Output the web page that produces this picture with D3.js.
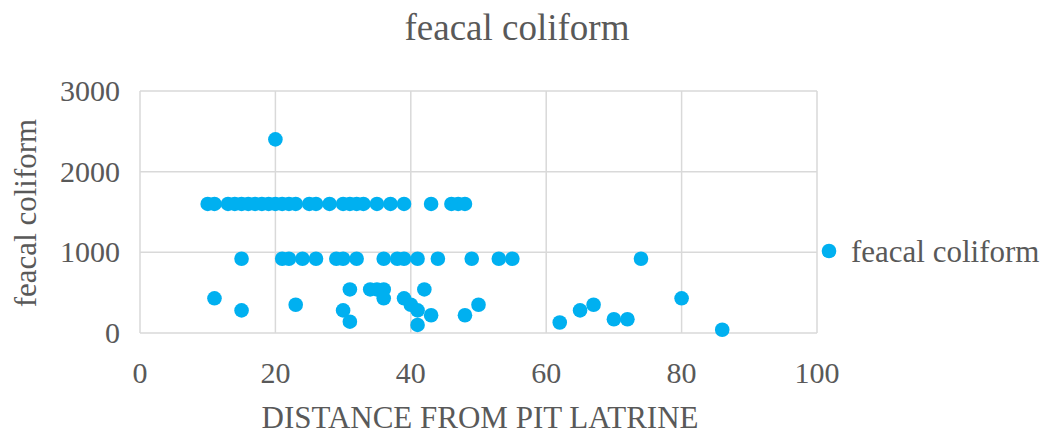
<!DOCTYPE html>
<html lang="en">
<head>
  <meta charset="UTF-8">
  <title>feacal coliform</title>
  <script src="https://d3js.org/d3.v7.min.js"></script>
  <style>
    body { margin: 0; background: #fff; }
    svg text { font-family: "Liberation Serif", "Times New Roman", serif; fill: #595959; }
  </style>
</head>
<body>
  <div id="chart"></div>
  <script>
    // distance from pit latrine (m) and feacal coliform count
    const distance = [
      20,
      10, 11, 13, 14, 15, 16, 17, 18, 19, 20, 21, 22, 23, 25, 26, 28, 30, 31, 32, 33, 35, 37, 39, 43, 46, 47, 48,
      15, 21, 22, 24, 26, 29, 30, 32, 36, 38, 39, 41, 44, 49, 53, 55, 74,
      31, 34, 35, 36, 42,
      11, 36, 39, 80,
      23, 40, 50, 67,
      15, 30, 41, 65,
      43, 48,
      70, 72,
      31, 62, 41, 86
    ];
    const coliform = [
      2400,
      1600, 1600, 1600, 1600, 1600, 1600, 1600, 1600, 1600, 1600, 1600, 1600, 1600, 1600, 1600, 1600, 1600, 1600, 1600, 1600, 1600, 1600, 1600, 1600, 1600, 1600, 1600,
      920, 920, 920, 920, 920, 920, 920, 920, 920, 920, 920, 920, 920, 920, 920, 920, 920,
      540, 540, 540, 540, 540,
      430, 430, 430, 430,
      350, 350, 350, 350,
      280, 280, 280, 280,
      220, 220,
      170, 170,
      140, 130, 100, 40
    ];
    const xTicks = [0, 20, 40, 60, 80, 100];
    const yTicks = [0, 1000, 2000, 3000];
    const seriesName = "feacal coliform";

    const data = distance.map((d, i) => ({ x: d, y: coliform[i] }));

    const width = 1047, height = 438;
    const color = "#00b0f0";

    const svg = d3.select("#chart").append("svg")
      .attr("width", width)
      .attr("height", height);

    const x = d3.scaleLinear().domain([0, 100]).range([140, 817]);
    const y = d3.scaleLinear().domain([0, 3000]).range([333, 91]);

    // gridlines
    svg.append("g").selectAll("line")
      .data(xTicks)
      .join("line")
      .attr("x1", d => x(d)).attr("x2", d => x(d))
      .attr("y1", y(0)).attr("y2", y(3000))
      .attr("stroke", "#d9d9d9").attr("stroke-width", 1.5);
    svg.append("g").selectAll("line")
      .data(yTicks)
      .join("line")
      .attr("x1", x(0)).attr("x2", x(100))
      .attr("y1", d => y(d)).attr("y2", d => y(d))
      .attr("stroke", "#d9d9d9").attr("stroke-width", 1.5);

    // tick labels
    svg.append("g").selectAll("text")
      .data(xTicks)
      .join("text")
      .attr("x", d => x(d))
      .attr("y", 383)
      .attr("text-anchor", "middle")
      .attr("font-size", 30)
      .text(d => d);
    svg.append("g").selectAll("text")
      .data(yTicks)
      .join("text")
      .attr("x", 120)
      .attr("y", d => y(d) + 10)
      .attr("text-anchor", "end")
      .attr("font-size", 30)
      .text(d => d);

    // points
    svg.append("g").selectAll("circle")
      .data(data)
      .join("circle")
      .attr("cx", d => x(d.x))
      .attr("cy", d => y(d.y))
      .attr("r", 7.3)
      .attr("fill", color);

    // titles
    svg.append("text")
      .attr("x", 517).attr("y", 40)
      .attr("text-anchor", "middle")
      .attr("font-size", 37)
      .text(seriesName);

    svg.append("text")
      .attr("x", 480).attr("y", 428)
      .attr("text-anchor", "middle")
      .attr("font-size", 31)
      .text("DISTANCE FROM PIT LATRINE");

    svg.append("text")
      .attr("transform", "translate(36,213) rotate(-90)")
      .attr("text-anchor", "middle")
      .attr("font-size", 31)
      .text(seriesName);

    // legend
    svg.append("circle")
      .attr("cx", 829).attr("cy", 251)
      .attr("r", 7.3)
      .attr("fill", color);
    svg.append("text")
      .attr("x", 851).attr("y", 262)
      .attr("font-size", 31)
      .text(seriesName);
  </script>
</body>
</html>
